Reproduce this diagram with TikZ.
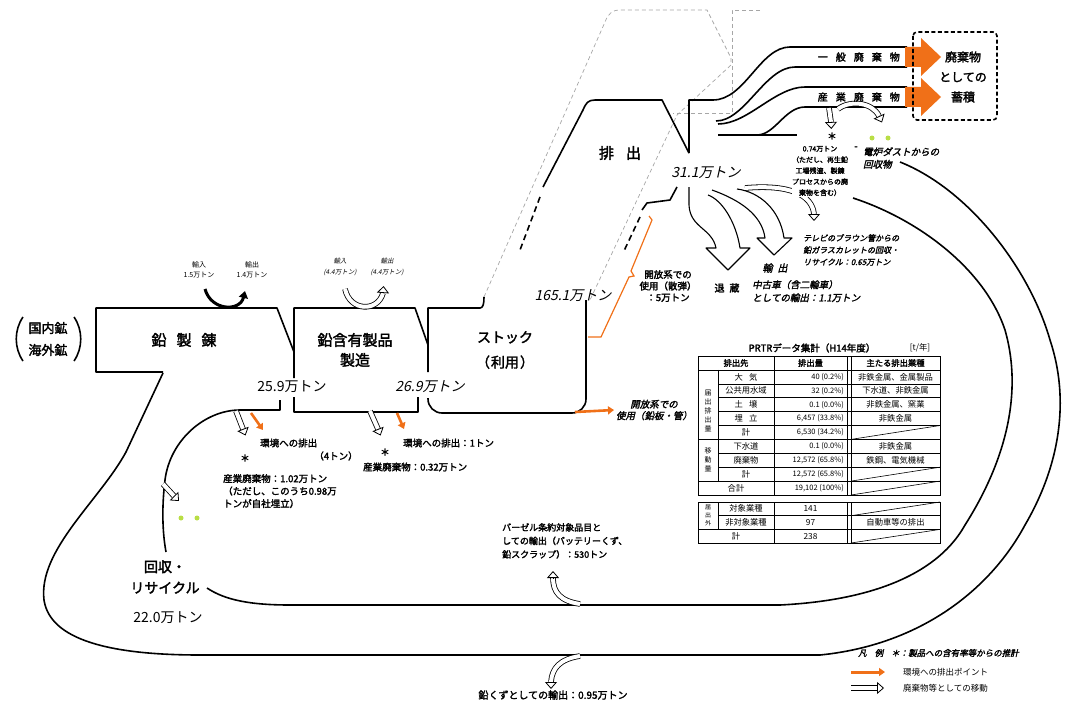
\documentclass[tikz,border=0pt]{standalone}
\usepackage{fontspec}
\setmainfont{Noto Sans CJK JP}
\newfontfamily\jpb[FakeBold=2.2]{Noto Sans CJK JP}
\newfontfamily\jpi[FakeSlant=0.22]{Noto Sans CJK JP}
\newfontfamily\jpbi[FakeSlant=0.22,FakeBold=2]{Noto Sans CJK JP}
\usetikzlibrary{arrows.meta}
\definecolor{org}{RGB}{240,112,24}
\definecolor{grn}{RGB}{185,222,70}
\tikzset{
 ln/.style={line width=1.6pt, line join=round},
 thn/.style={line width=1.1pt, line join=round},
 ghost/.style={draw=black!35, line width=0.7pt, dash pattern=on 4pt off 3pt},
 oshaft/.style={line width=0.8pt, double=white, double distance=4pt},
 ohead/.style={line width=0.8pt, -{Triangle[length=7pt,width=12pt,fill=white]}},
 orgarrow/.style={draw=org, line width=2.6pt, -{Triangle[length=6pt,width=8pt]}},
 big/.style={font=\jpb\fontsize{15}{20}\selectfont, inner sep=0, align=center},
 numi/.style={font=\jpi\fontsize{14}{14}\selectfont, inner sep=0},
 numu/.style={font=\fontsize{14}{14}\selectfont, inner sep=0},
 tx/.style={font=\jpb\fontsize{9.5}{12.5}\selectfont, inner sep=0, align=left},
 txi/.style={font=\jpbi\fontsize{9.5}{12.5}\selectfont, inner sep=0, align=left},
 tb/.style={font=\fontsize{8.3}{9}\selectfont, inner sep=0},
 tbh/.style={font=\jpb\fontsize{8.3}{9}\selectfont, inner sep=0},
 mid/.style={font=\jpb\fontsize{10}{12}\selectfont, inner sep=0},
 gdot/.style={circle, fill=grn, inner sep=0, minimum size=5pt},
}
\begin{document}
\begin{tikzpicture}[x=1pt,y=-1pt]
\useasboundingbox (0,0) rectangle (1067,706);

% ---------- ghost dashed outlines ----------
\draw[ghost] (484,297) -- (605,22) .. controls (608,14) and (612,10) .. (620,10) -- (707,10) -- (731,58) -- (731,65) -- (677,115) -- (590,300);
\draw[ghost] (760,10) -- (732,10) -- (732,113) -- (673,113);

% ---------- main boxes ----------
\draw[ln] (163,372) -- (96,372) -- (96,308) -- (277,308) -- (294,352) -- (294,378);
\draw[ln] (294,352) -- (294,308) -- (415,308) -- (428,345);
\draw[ln] (428,372) -- (428,308) -- (480,308) .. controls (483,308) and (484,304) .. (484,297);
\draw[ln] (294,397) -- (294,412) -- (418,412) -- (418,397);
\draw[ln, rounded corners=14pt] (428,398) -- (428,413) -- (586,413) -- (586,300);

% ---------- emission box (排出) ----------
\draw[ln] (543,187) -- (583,110) .. controls (586,103) and (588,100) .. (595,100) -- (662,100) -- (689,153);
\draw[ln, dash pattern=on 6pt off 4pt] (540,197) -- (520,250);
\draw[ln] (689,153) -- (689,100) -- (713,100) .. controls (745,100) and (760,47) .. (790,47) -- (907,47);
\draw[ln] (716,121) .. controls (745,121) and (765,67) .. (795,67) -- (907,67);
\draw[ln] (718,124) .. controls (748,124) and (775,87) .. (805,87) -- (907,87);
\draw[ln] (718,135) -- (757,135) .. controls (775,135) and (785,107) .. (805,107) -- (907,107);
\draw[ln] (757,135) -- (797,135);
\draw[ln] (677,187) -- (670,200) -- (647,203) -- (642,210);
\draw[ln, dash pattern=on 6pt off 4pt] (640,217) -- (623,253);

% big open arrows from emission
\draw[thn, fill=white] (689,187) -- (689,205) .. controls (690,228) and (712,228) .. (716,248) -- (706,248) -- (728,270) -- (750,248) -- (740,248) .. controls (736,222) and (722,200) .. (708,195);
\draw[thn, fill=white] (712,190) .. controls (740,200) and (762,215) .. (765,238) -- (757,238) -- (774,255) -- (792,238) -- (784,238) .. controls (780,210) and (760,192) .. (737,189);
\draw[oshaft] (745,188) .. controls (790,184) and (812,195) .. (814,214);
\draw[ohead] (814,214) -- ++(0,7);

% orange arrows to accumulation
\fill[org] (905,47) -- (921,47) -- (921,38) -- (941,57) -- (921,76) -- (921,67) -- (905,67) -- cycle;
\fill[org] (905,87) -- (921,87) -- (921,78) -- (941,97) -- (921,116) -- (921,107) -- (905,107) -- cycle;
\draw[line width=1.6pt, dash pattern=on 4pt off 2.5pt, rounded corners=4pt] (913,32) rectangle (997,120);

% 0.74 arrows
\draw[oshaft] (829,108) -- (831,122);
\draw[ohead] (831,122) -- ++(0.3,7);
\draw[oshaft] (838,109) .. controls (850,100) and (872,102) .. (879,116);
\draw[ohead] (879,116) -- ++(3,6.5);

% ---------- recycling loop ----------
\draw[ln] (163,373) -- (126,452) .. controls (100,500) and (38,550) .. (44,600) .. controls (50,640) and (110,655) .. (200,655) -- (820,655)
  .. controls (920,645) and (990,590) .. (1025,525) .. controls (1060,465) and (1070,400) .. (1050,340) .. controls (1030,270) and (970,190) .. (900,162);
\draw[ln] (280,400) -- (280,410) -- (240,410) .. controls (205,410) and (170,440) .. (165,480) .. controls (162,505) and (162,530) .. (166,552);
\draw[ln] (207,588) .. controls (225,600) and (250,605) .. (290,605) -- (780,605)
  .. controls (880,600) and (940,570) .. (965,525) .. controls (1000,470) and (1025,400) .. (1005,330) .. controls (985,270) and (920,220) .. (853,198);

% small open arrows
\draw[oshaft] (163,484) -- (174,496);
\draw[ohead] (174,496) -- ++(5,5);
\draw[oshaft] (580,604) .. controls (560,601) and (553,592) .. (553,578);
\draw[ohead] (553,578) -- ++(0,-7);
\draw[oshaft] (580,656) .. controls (560,659) and (552,668) .. (551,682);
\draw[ohead] (551,682) -- ++(0,7);
\draw[oshaft] (236,411) -- (243,429);
\draw[ohead] (243,429) -- ++(2.5,6.5);
\draw[oshaft] (370,411) -- (378,429);
\draw[ohead] (378,429) -- ++(2.6,6.5);
\draw[oshaft] (345,289) .. controls (350,312) and (378,312) .. (383,293);
\draw[ohead] (383,293) -- ++(0.5,-7);
\draw[line width=3pt, -{Triangle[length=7pt,width=9pt]}] (205,289) .. controls (211,311) and (240,312) .. (245,291);

% orange emission arrows
\draw[orgarrow] (251,413) -- (263,430);
\draw[orgarrow] (397,413) -- (404,429);
\draw[orgarrow] (575,412) -- (614,410);
\draw[org, line width=1.2pt] (588,337) -- (601,337) -- (629,277) -- (634,276) -- (631,271) -- (652,220) -- (649,216);

% ---------- parentheses ----------
\draw[line width=1.6pt] (23,317) .. controls (14,330) and (14,348) .. (23,361);
\draw[line width=1.6pt] (74,317) .. controls (83,330) and (83,348) .. (74,361);

% ---------- labels ----------
\node[big, font=\jpb\fontsize{13}{22}\selectfont] (kokunai) at (48,339) {国内鉱\\海外鉱};
\node[big] (seiren) at (184,340) {鉛\hspace{10pt}製\hspace{10pt}錬};
\node[big] (seihin) at (355,350) {鉛含有製品\\製造};
\node[big, font=\jpb\fontsize{14}{25}\selectfont] (stock) at (505,350) {ストック\\（\hspace{1pt}利用\hspace{1pt}）};
\node[big] (haishutsu) at (620,153) {排\hspace{12pt}出};
\node[numu] (n259) at (292,387) {25.9万トン};
\node[numi] (n269) at (430,387) {26.9万トン};
\node[numi] (n1651) at (573,296) {165.1万トン};
\node[numi] (n311) at (706,173) {31.1万トン};
\node[numu] (n220) at (168,618) {22.0万トン};
\node[big, font=\jpb\fontsize{14}{21}\selectfont] (kaishu) at (165,577) {回収・\\リサイクル};

\node[tx, font=\fontsize{7}{10.5}\selectfont, align=center] (imp1) at (199,270) {輸入\\1.5万トン};
\node[tx, font=\fontsize{7}{10.5}\selectfont, align=center] (exp1) at (252,270) {輸出\\1.4万トン};
\node[txi, font=\jpi\fontsize{6.5}{10.5}\selectfont, align=center] (imp2) at (340,267) {輸入\\(4.4万トン)};
\node[txi, font=\jpi\fontsize{6.5}{10.5}\selectfont, align=center] (exp2) at (387,267) {輸出\\(4.4万トン)};

\node[tx, anchor=west] (env1) at (260,443) {環境への排出};
\node[tx] (env1b) at (336,456) {（4トン）};
\node[tx] (ast1) at (245,458) {＊};
\node[tx, anchor=north west] (waste1) at (223,474) {産業廃棄物：1.02万トン\\（ただし、このうち0.98万\\トンが自社埋立）};
\node[tx, anchor=west] (env2) at (403,443) {環境への排出：1トン};
\node[tx] (ast2) at (385,452) {＊};
\node[tx, anchor=west] (waste2) at (363,467) {産業廃棄物：0.32万トン};

\node[txi, align=center, font=\jpbi\fontsize{9.5}{11.5}\selectfont] (open1) at (654,410) {開放系での\\使用（鉛板・管）};
\node[tx, align=center, font=\jpb\fontsize{9.5}{11.5}\selectfont] (open2) at (668,286) {開放系での\\使用（散弾）\\：5万トン};
\node[mid] (taizo) at (727,288) {退\hspace{5pt}蔵};
\node[mid, font=\jpbi\fontsize{10}{12}\selectfont] (yushutsu) at (775,268) {輸\hspace{5pt}出};
\node[txi, anchor=north west, font=\jpbi\fontsize{9.5}{13}\selectfont] (chuko) at (752,280) {中古車（含二輪車）\\としての輸出：1.1万トン};
\node[txi, anchor=north west, font=\jpbi\fontsize{8}{12}\selectfont] (tv) at (803,234) {テレビのブラウン管からの\\鉛ガラスカレットの回収・\\リサイクル：0.65万トン};
\node[tx, font=\jpb\fontsize{7}{11}\selectfont, align=center, fill=white, inner sep=0.5pt] (n074) at (820,171) {0.74万トン\\（ただし、再生鉛\\工場残渣、製錬\\プロセスからの廃\\棄物を含む）};
\node[tx] (dash074) at (856,148) {-};
\node[tx] (ast3) at (832,136) {＊};
\node[txi, anchor=west] (denro) at (863,158) {電炉ダストからの\\回収物};
\node[gdot] (g1) at (872,138) {};
\node[gdot] (g2) at (888,138) {};
\node[gdot] (g3) at (181,518) {};
\node[gdot] (g4) at (197,518) {};

\node[mid, anchor=east] (ippan) at (900,57) {一\hspace{8pt}般\hspace{8pt}廃\hspace{8pt}棄\hspace{8pt}物};
\node[mid, anchor=east] (sangyo) at (900,97) {産\hspace{8pt}業\hspace{8pt}廃\hspace{8pt}棄\hspace{8pt}物};
\node[big, font=\jpb\fontsize{12}{20}\selectfont] (chikuseki) at (963,77) {廃棄物\\としての\\蓄積};

\node[tx, anchor=north west, font=\jpb\fontsize{9}{13.5}\selectfont] (basel) at (502,523) {バーゼル条約対象品目と\\しての輸出（バッテリーくず、\\鉛スクラップ）：530トン};
\node[tx, font=\jpb\fontsize{10}{12}\selectfont] (kuzu) at (553,695) {鉛くずとしての輸出：0.95万トン};

% legend
\node[txi, anchor=west, font=\jpbi\fontsize{8.5}{10}\selectfont] (leg0) at (858,653) {凡\hspace{8pt}例\hspace{8pt}＊：製品への含有率等からの推計};
\draw[orgarrow, line width=3pt] (851,672) -- (885,672);
\node[tx, font=\fontsize{8.5}{10}\selectfont, anchor=west] (leg1) at (903,672) {環境への排出ポイント};
\draw[oshaft] (851,688) -- (877,688);
\draw[ohead] (877,688) -- ++(7,0);
\node[tx, font=\fontsize{8.5}{10}\selectfont, anchor=west] (leg2) at (903,688) {廃棄物等としての移動};

% ---------- PRTR table ----------
\def\Xa{698}\def\Xb{718}\def\Xc{774}\def\Xd{847}\def\Xe{851}\def\Xf{940}
\node[tb, font=\jpb\fontsize{9.5}{10}\selectfont] (ttl) at (812,348) {PRTRデータ集計（H14年度）};
\node[tb] (unit) at (920,348) {[t/年]};
\foreach \i in {0,1,6,9,10} \draw[line width=0.8pt] (\Xa,356+13.9*\i) -- (\Xf,356+13.9*\i);
\foreach \i in {2,3,4,5,7,8} \draw[line width=0.6pt] (\Xb,356+13.9*\i) -- (\Xf,356+13.9*\i);
\draw[line width=1pt] (\Xa,356) rectangle (\Xf,495);
\draw[line width=0.6pt] (\Xb,369.9) -- (\Xb,481.1);
\foreach \x in {\Xc,\Xd,\Xe} \draw[line width=0.7pt] (\x,356) -- (\x,495);
\foreach \i in {5,8,9} \draw[line width=0.6pt] (\Xe,356+13.9*\i+13.9) -- (\Xf,356+13.9*\i);
\node[tbh] (h1) at (736,363) {排出先};
\node[tbh] (h2) at (810.5,363) {排出量};
\node[tbh] (h3) at (895.5,363) {主たる排出業種};
\node[tb, font=\fontsize{7}{9}\selectfont, align=center] (gA) at (708,411) {届\\出\\排\\出\\量};
\node[tb, font=\fontsize{7}{9}\selectfont, align=center] (gB) at (708,460) {移\\動\\量};
\foreach \t [count=\k] in {大\hspace{6pt}気,公共用水域,土\hspace{6pt}壌,埋\hspace{6pt}立,計,下水道,廃棄物,計}
  \node[tb] at (746,356+13.9*\k+7) {\t};
\node[tb] (gokei) at (736,488) {合計};
\foreach \t [count=\k] in {40 (0.2\%),32 (0.2\%),0.1 (0.0\%),{6,457 (33.8\%)},{6,530 (34.2\%)},0.1 (0.0\%),{12,572 (65.8\%)},{12,572 (65.8\%)},{19,102 (100\%)}}
  \node[tb, anchor=east, font=\fontsize{7.5}{9}\selectfont] at (844,356+13.9*\k+7) {\t};
\foreach \t [count=\k] in {非鉄金属、金属製品,下水道、非鉄金属,非鉄金属、窯業,非鉄金属}
  \node[tb] at (895.5,356+13.9*\k+7) {\t};
\node[tb] (c6) at (895.5,446.4) {非鉄金属};
\node[tb] (c7) at (895.5,460.3) {鉄鋼、電気機械};
\draw[line width=1pt] (\Xa,502) rectangle (\Xf,543);
\draw[line width=0.6pt] (\Xb,515.7) -- (\Xf,515.7);
\draw[line width=0.8pt] (\Xa,529.4) -- (\Xf,529.4);
\draw[line width=0.6pt] (\Xb,502) -- (\Xb,529.4);
\foreach \x in {\Xc,\Xd,\Xe} \draw[line width=0.7pt] (\x,502) -- (\x,543);
\draw[line width=0.6pt] (\Xe,515.7) -- (\Xf,502);
\draw[line width=0.6pt] (\Xe,543) -- (\Xf,529.4);
\node[tb, font=\fontsize{6}{8}\selectfont, align=center] (gC) at (708,515.7) {届\\出\\外};
\node[tb] (s1) at (746,508.8) {対象業種};
\node[tb] (s2) at (746,522.5) {非対象業種};
\node[tb] (s3) at (736,536.2) {計};
\node[tb] (v1) at (810.5,508.8) {141};
\node[tb] (v2) at (810.5,522.5) {97};
\node[tb] (v3) at (810.5,536.2) {238};
\node[tb] (w2) at (895.5,522.5) {自動車等の排出};
\end{tikzpicture}
\end{document}
